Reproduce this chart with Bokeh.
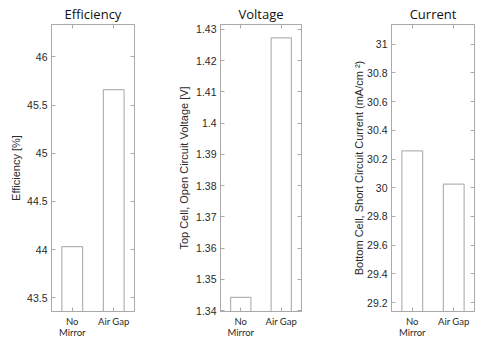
from bokeh.plotting import figure
from bokeh.layouts import row
from bokeh.models import (FactorRange, Range1d, LinearAxis, CategoricalAxis,
                          FixedTicker, NumeralTickFormatter, Title,
                          CustomJSTickFormatter)
from bokeh.embed import file_html
from bokeh.resources import INLINE

categories = ["No\nMirror", "Air Gap"]

titles = ["Efficiency", "Voltage", "Current"]
ylabels = ["Efficiency [%]",
           "Top Cell, Open Circuit Voltage [V]",
           "Bottom Cell, Short Circuit Current (mA/cm \u00b2)"]

efficiency = [44.03, 45.66]
voltage = [1.3442, 1.4273]
current = [30.257, 30.025]

eff_ticks = [43.5, 44, 44.5, 45, 45.5, 46]
volt_ticks = [1.34, 1.35, 1.36, 1.37, 1.38, 1.39, 1.40, 1.41, 1.42, 1.43]
curr_ticks = [29.2, 29.4, 29.6, 29.8, 30.0, 30.2, 30.4, 30.6, 30.8, 31.0]

eff_range = (43.357, 46.337)
volt_range = (1.3397, 1.4316)
curr_range = (29.138, 31.137)

FRAME = "#aaaaaa"
BAR = "#b4b4b4"
TXT = "#2a2a2a"


def blank():
    return CustomJSTickFormatter(code="return ''")


def panel(title, ylabel, values, ticks, yr, fmt, left, fw, right, lab_off):
    p = figure(x_range=FactorRange(*categories, range_padding=0),
               y_range=Range1d(*yr),
               width=left + fw + right, height=340,
               min_border_left=left, min_border_right=right,
               min_border_top=24, min_border_bottom=28,
               output_backend="svg", toolbar_location=None,
               x_axis_location=None, y_axis_location=None)
    p.grid.visible = False
    p.background_fill_color = "white"
    p.border_fill_color = "white"
    p.outline_line_color = FRAME
    p.vbar(x=categories, top=values, bottom=0, width=0.5,
           fill_color="white", line_color=BAR, line_width=1.2)

    yl = LinearAxis(ticker=FixedTicker(ticks=ticks),
                    formatter=NumeralTickFormatter(format=fmt),
                    axis_label=ylabel)
    yl.axis_label_text_font = "Liberation Sans"
    yl.axis_label_text_font_size = "11px"
    yl.axis_label_text_font_style = "normal"
    yl.axis_label_text_color = TXT
    yl.axis_label_standoff = lab_off
    yl.major_label_text_font = "Liberation Sans"
    yl.major_label_text_font_size = "10.5px"
    yl.major_label_text_color = TXT
    yl.major_label_standoff = 4
    yl.major_tick_in = 4
    yl.major_tick_out = 0
    yl.minor_tick_in = 0
    yl.minor_tick_out = 0
    yl.axis_line_color = FRAME
    yl.major_tick_line_color = FRAME
    p.add_layout(yl, "left")

    yr_ax = LinearAxis(ticker=FixedTicker(ticks=ticks), formatter=blank())
    yr_ax.major_label_text_font_size = "1px"
    yr_ax.major_label_standoff = 0
    yr_ax.major_tick_in = 4
    yr_ax.major_tick_out = 0
    yr_ax.minor_tick_out = 0
    yr_ax.axis_line_color = FRAME
    yr_ax.major_tick_line_color = FRAME
    p.add_layout(yr_ax, "right")

    xb = CategoricalAxis()
    xb.major_label_text_font = "Lato"
    xb.major_label_text_font_size = "9.5px"
    xb.major_label_text_line_height = 1.0
    xb.major_label_text_color = TXT
    xb.major_label_standoff = 4
    xb.major_tick_in = 4
    xb.major_tick_out = 0
    xb.axis_line_color = FRAME
    xb.major_tick_line_color = FRAME
    p.add_layout(xb, "below")

    xt = CategoricalAxis(formatter=blank())
    xt.major_label_text_font_size = "1px"
    xt.major_label_standoff = 0
    xt.major_tick_in = 4
    xt.major_tick_out = 0
    xt.axis_line_color = FRAME
    xt.major_tick_line_color = FRAME
    p.add_layout(xt, "above")

    p.add_layout(Title(text=title, align="center", text_font="Open Sans",
                       text_font_size="13px", text_font_style="normal",
                       text_color="#111111", standoff=3), "above")
    return p


p1 = panel(titles[0], ylabels[0], efficiency, eff_ticks, eff_range, "0.[0]", 51, 83, 41, 2)
p2 = panel(titles[1], ylabels[1], voltage, volt_ticks, volt_range, "0.[00]", 44, 82, 39, 3)
p3 = panel(titles[2], ylabels[2], current, curr_ticks, curr_range, "0.[0]", 51, 83, 7, -1)

layout = row(p1, p2, p3, spacing=0)
open("out.html", "w").write(file_html(layout, INLINE))
